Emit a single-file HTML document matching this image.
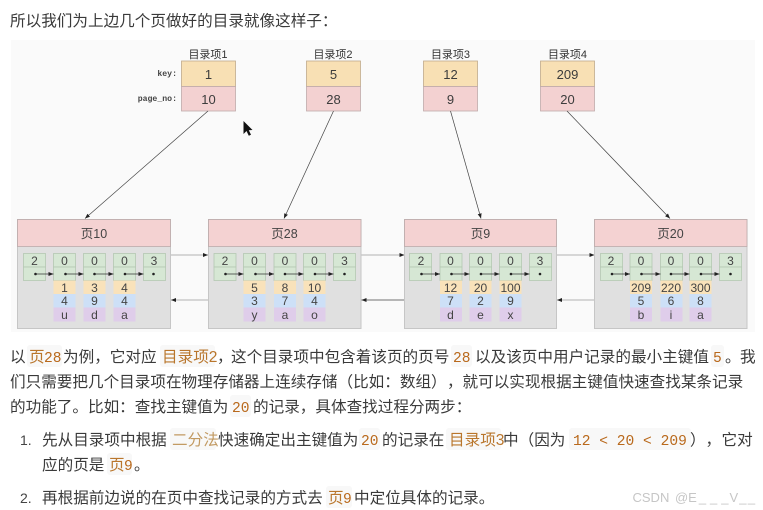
<!DOCTYPE html>
<html><head><meta charset="utf-8">
<style>
html,body{margin:0;padding:0;background:#fff;width:763px;height:510px;overflow:hidden}
svg{display:block;filter:blur(.3px)}
text{font-family:"Liberation Sans","Noto Sans CJK SC",sans-serif;text-spacing-trim:space-all}
.t{font-size:15.6px;fill:#3a3a3a}
.c{font-size:15.6px;fill:#b9762c}
.l{font-size:15.6px;fill:#c29a62}
.m{font-family:"Liberation Mono","Noto Sans CJK SC",monospace;font-size:14.6px;fill:#b9691c}
.n{font-size:14px;fill:#444}
.bg{fill:#f8f8f8}
.g{fill:#d6e7d4;stroke:#b4c8b2;stroke-width:.8}
.o{fill:#f9e2ba}
.b{fill:#cde0f7}
.p{fill:#dfcdea}
.v{font-size:12px;fill:#444;text-anchor:middle}
.d{font-size:13px;fill:#3c3c3c;text-anchor:middle}
.h{font-size:12.5px;fill:#444;text-anchor:middle}
.lb{font-size:11px;fill:#333;text-anchor:middle}
.k{font-family:"Liberation Mono",monospace;font-size:8.2px;font-weight:bold;fill:#444;text-anchor:end}
.pg{fill:#e0e0e0;stroke:#c6c6c6;stroke-width:1}
.hd{fill:#f4d2d2;stroke:#bcaaaa;stroke-width:.8}
.dir1{fill:#f8e0b4;stroke:#c0aa8c;stroke-width:.8}
.dir2{fill:#f3d1d1;stroke:#c0aaaa;stroke-width:.8}
.a{stroke:#444;stroke-width:.7;fill:none;marker-end:url(#ah)}
.a2{stroke:#999;stroke-width:.8;fill:none;marker-end:url(#ah)}
.a3{stroke:#444;stroke-width:.8;fill:none;marker-end:url(#ah)}
.r{stroke:#333;stroke-width:.8;fill:none;marker-end:url(#as)}
.dot{fill:#222}
</style></head>
<body>
<svg width="763" height="510" viewBox="0 0 763 510" xmlns="http://www.w3.org/2000/svg">
<defs>
<marker id="ah" markerWidth="6" markerHeight="5" refX="5" refY="2.5" orient="auto" markerUnits="userSpaceOnUse"><path d="M0 .5L5 2.500L0 4.500z" fill="#222"/></marker>
<marker id="as" markerWidth="6" markerHeight="5" refX="5" refY="2.5" orient="auto" markerUnits="userSpaceOnUse"><path d="M0 .5L5 2.500L0 4.500z" fill="#222"/></marker>
</defs>
<rect width="763" height="510" fill="#fff"/>
<text class="t" x="10" y="26">所以我们为上边几个页做好的目录就像这样子：</text>
<rect x="11" y="40" width="744" height="292" fill="#fafafa"/>

<!-- directory -->
<text class="lb" x="208" y="58">目录项1</text>
<text class="lb" x="333" y="58">目录项2</text>
<text class="lb" x="450.5" y="58">目录项3</text>
<text class="lb" x="567.5" y="58">目录项4</text>
<text class="k" x="177" y="76">key:</text>
<text class="k" x="177" y="101">page_no:</text>
<rect class="dir1" x="181.5" y="61" width="54" height="25.5"/><rect class="dir2" x="181.5" y="86.5" width="54" height="24.5"/>
<rect class="dir1" x="306.5" y="61" width="54" height="25.5"/><rect class="dir2" x="306.5" y="86.5" width="54" height="24.5"/>
<rect class="dir1" x="423.5" y="61" width="54" height="25.5"/><rect class="dir2" x="423.5" y="86.5" width="54" height="24.5"/>
<rect class="dir1" x="540.5" y="61" width="54" height="25.5"/><rect class="dir2" x="540.5" y="86.5" width="54" height="24.5"/>
<text class="d" x="208.5" y="79">1</text><text class="d" x="208.5" y="104">10</text>
<text class="d" x="333.5" y="79">5</text><text class="d" x="333.5" y="104">28</text>
<text class="d" x="450.5" y="79">12</text><text class="d" x="450.5" y="104">9</text>
<text class="d" x="567.5" y="79">209</text><text class="d" x="567.5" y="104">20</text>

<path class="a" d="M208 111L85 218.5"/>
<path class="a" d="M333.5 111L284 218.5"/>
<path class="a" d="M450.5 111L481 218.5"/>
<path class="a" d="M567 111L670 218.5"/>

<!-- cursor -->
<path d="M243.500 121L243.500 134L246.500 131L248.800 135.800L251 134.800L248.800 130.300L252.500 130z" fill="#111"/>

<!-- page connectors -->
<path class="a2" d="M170.500 255L208 255"/><path class="a2" d="M208 300L171 300"/>
<path class="a2" d="M361 255L404.500 255"/><path class="a3" d="M404.500 300L361.500 300"/>
<path class="a2" d="M556.500 255L594.500 255"/><path class="a2" d="M594.500 300L557 300"/>

<!-- Page 10 -->
<rect class="pg" x="17.500" y="219.500" width="153" height="109"/><rect class="hd" x="17.500" y="219.500" width="153" height="27"/>
<text class="h" x="94" y="238">页10</text>
<g>
<rect class="g" x="23.500" y="253.500" width="22" height="13.500"/><rect class="g" x="23.500" y="267" width="22" height="13.500"/>
<rect class="g" x="53.500" y="253.500" width="22" height="13.500"/><rect class="g" x="53.500" y="267" width="22" height="13.500"/>
<rect class="o" x="53.500" y="280.500" width="22" height="13.500"/><rect class="b" x="53.500" y="294" width="22" height="13.500"/><rect class="p" x="53.500" y="307.500" width="22" height="14"/>
<rect class="g" x="83.500" y="253.500" width="22" height="13.500"/><rect class="g" x="83.500" y="267" width="22" height="13.500"/>
<rect class="o" x="83.500" y="280.500" width="22" height="13.500"/><rect class="b" x="83.500" y="294" width="22" height="13.500"/><rect class="p" x="83.500" y="307.500" width="22" height="14"/>
<rect class="g" x="113.500" y="253.500" width="22" height="13.500"/><rect class="g" x="113.500" y="267" width="22" height="13.500"/>
<rect class="o" x="113.500" y="280.500" width="22" height="13.500"/><rect class="b" x="113.500" y="294" width="22" height="13.500"/><rect class="p" x="113.500" y="307.500" width="22" height="14"/>
<rect class="g" x="143.500" y="253.500" width="22" height="13.500"/><rect class="g" x="143.500" y="267" width="22" height="13.500"/>
<path class="r" d="M35.500 274L53.500 274"/><path class="r" d="M65.500 274L83.500 274"/><path class="r" d="M94.500 274L113.500 274"/><path class="r" d="M125 274L143.500 274"/>
<circle class="dot" cx="35.500" cy="274" r="1.300"/><circle class="dot" cx="65.500" cy="274" r="1.300"/><circle class="dot" cx="94.500" cy="274" r="1.300"/><circle class="dot" cx="125" cy="274" r="1.300"/><circle class="dot" cx="153.500" cy="274" r="1.300"/>
<text class="v" x="34.500" y="265">2</text><text class="v" x="64.500" y="265">0</text><text class="v" x="94.500" y="265">0</text><text class="v" x="124.500" y="265">0</text><text class="v" x="154" y="265">3</text>
<text class="v" x="64.500" y="292">1</text><text class="v" x="94.500" y="292">3</text><text class="v" x="124.500" y="292">4</text>
<text class="v" x="64.500" y="305">4</text><text class="v" x="94.500" y="305">9</text><text class="v" x="124.500" y="305">4</text>
<text class="v" x="64.500" y="319">u</text><text class="v" x="94.500" y="319">d</text><text class="v" x="124.500" y="319">a</text>
</g>

<!-- Page 28 -->
<rect class="pg" x="208.500" y="219.500" width="152.500" height="109"/><rect class="hd" x="208.500" y="219.500" width="152.500" height="27"/>
<text class="h" x="284.500" y="238">页28</text>
<g>
<rect class="g" x="214" y="253.500" width="22" height="13.500"/><rect class="g" x="214" y="267" width="22" height="13.500"/>
<rect class="g" x="243.500" y="253.500" width="22" height="13.500"/><rect class="g" x="243.500" y="267" width="22" height="13.500"/>
<rect class="o" x="243.500" y="280.500" width="22" height="13.500"/><rect class="b" x="243.500" y="294" width="22" height="13.500"/><rect class="p" x="243.500" y="307.500" width="22" height="14"/>
<rect class="g" x="274" y="253.500" width="22" height="13.500"/><rect class="g" x="274" y="267" width="22" height="13.500"/>
<rect class="o" x="274" y="280.500" width="22" height="13.500"/><rect class="b" x="274" y="294" width="22" height="13.500"/><rect class="p" x="274" y="307.500" width="22" height="14"/>
<rect class="g" x="303.500" y="253.500" width="22" height="13.500"/><rect class="g" x="303.500" y="267" width="22" height="13.500"/>
<rect class="o" x="303.500" y="280.500" width="22" height="13.500"/><rect class="b" x="303.500" y="294" width="22" height="13.500"/><rect class="p" x="303.500" y="307.500" width="22" height="14"/>
<rect class="g" x="333.500" y="253.500" width="22" height="13.500"/><rect class="g" x="333.500" y="267" width="22" height="13.500"/>
<path class="r" d="M225.500 274L243.500 274"/><path class="r" d="M255.500 274L274 274"/><path class="r" d="M285 274L303.500 274"/><path class="r" d="M315 274L333.500 274"/>
<circle class="dot" cx="225.500" cy="274" r="1.300"/><circle class="dot" cx="255.500" cy="274" r="1.300"/><circle class="dot" cx="285" cy="274" r="1.300"/><circle class="dot" cx="315" cy="274" r="1.300"/><circle class="dot" cx="344.500" cy="274" r="1.300"/>
<text class="v" x="225" y="265">2</text><text class="v" x="254.500" y="265">0</text><text class="v" x="285" y="265">0</text><text class="v" x="314.500" y="265">0</text><text class="v" x="344.500" y="265">3</text>
<text class="v" x="254.500" y="292">5</text><text class="v" x="285" y="292">8</text><text class="v" x="314.500" y="292">10</text>
<text class="v" x="254.500" y="305">3</text><text class="v" x="285" y="305">7</text><text class="v" x="314.500" y="305">4</text>
<text class="v" x="254.500" y="319">y</text><text class="v" x="285" y="319">a</text><text class="v" x="314.500" y="319">o</text>
</g>

<!-- Page 9 -->
<rect class="pg" x="404.500" y="219.500" width="152" height="109"/><rect class="hd" x="404.500" y="219.500" width="152" height="27"/>
<text class="h" x="480.500" y="238">页9</text>
<g>
<rect class="g" x="409.500" y="253.500" width="22" height="13.500"/><rect class="g" x="409.500" y="267" width="22" height="13.500"/>
<rect class="g" x="440" y="253.500" width="22" height="13.500"/><rect class="g" x="440" y="267" width="22" height="13.500"/>
<rect class="o" x="440" y="280.500" width="22" height="13.500"/><rect class="b" x="440" y="294" width="22" height="13.500"/><rect class="p" x="440" y="307.500" width="22" height="14"/>
<rect class="g" x="469.500" y="253.500" width="22" height="13.500"/><rect class="g" x="469.500" y="267" width="22" height="13.500"/>
<rect class="o" x="469.500" y="280.500" width="22" height="13.500"/><rect class="b" x="469.500" y="294" width="22" height="13.500"/><rect class="p" x="469.500" y="307.500" width="22" height="14"/>
<rect class="g" x="499.500" y="253.500" width="22" height="13.500"/><rect class="g" x="499.500" y="267" width="22" height="13.500"/>
<rect class="o" x="499.500" y="280.500" width="22" height="13.500"/><rect class="b" x="499.500" y="294" width="22" height="13.500"/><rect class="p" x="499.500" y="307.500" width="22" height="14"/>
<rect class="g" x="529.500" y="253.500" width="22" height="13.500"/><rect class="g" x="529.500" y="267" width="22" height="13.500"/>
<path class="r" d="M421.500 274L440 274"/><path class="r" d="M451.500 274L469.500 274"/><path class="r" d="M481 274L499.500 274"/><path class="r" d="M511 274L529.500 274"/>
<circle class="dot" cx="421.500" cy="274" r="1.300"/><circle class="dot" cx="451.500" cy="274" r="1.300"/><circle class="dot" cx="481" cy="274" r="1.300"/><circle class="dot" cx="511" cy="274" r="1.300"/><circle class="dot" cx="540" cy="274" r="1.300"/>
<text class="v" x="421" y="265">2</text><text class="v" x="450.500" y="265">0</text><text class="v" x="480.500" y="265">0</text><text class="v" x="510.500" y="265">0</text><text class="v" x="540" y="265">3</text>
<text class="v" x="450.500" y="292">12</text><text class="v" x="480.500" y="292">20</text><text class="v" x="510.500" y="292">100</text>
<text class="v" x="450.500" y="305">7</text><text class="v" x="480.500" y="305">2</text><text class="v" x="510.500" y="305">9</text>
<text class="v" x="450.500" y="319">d</text><text class="v" x="480.500" y="319">e</text><text class="v" x="510.500" y="319">x</text>
</g>

<!-- Page 20 -->
<rect class="pg" x="594.500" y="219.500" width="152.500" height="109"/><rect class="hd" x="594.500" y="219.500" width="152.500" height="27"/>
<text class="h" x="670.500" y="238">页20</text>
<g>
<rect class="g" x="600.500" y="253.500" width="22" height="13.500"/><rect class="g" x="600.500" y="267" width="22" height="13.500"/>
<rect class="g" x="630" y="253.500" width="22" height="13.500"/><rect class="g" x="630" y="267" width="22" height="13.500"/>
<rect class="o" x="630" y="280.500" width="22" height="13.500"/><rect class="b" x="630" y="294" width="22" height="13.500"/><rect class="p" x="630" y="307.500" width="22" height="14"/>
<rect class="g" x="660.500" y="253.500" width="22" height="13.500"/><rect class="g" x="660.500" y="267" width="22" height="13.500"/>
<rect class="o" x="660.500" y="280.500" width="22" height="13.500"/><rect class="b" x="660.500" y="294" width="22" height="13.500"/><rect class="p" x="660.500" y="307.500" width="22" height="14"/>
<rect class="g" x="689.500" y="253.500" width="22" height="13.500"/><rect class="g" x="689.500" y="267" width="22" height="13.500"/>
<rect class="o" x="689.500" y="280.500" width="22" height="13.500"/><rect class="b" x="689.500" y="294" width="22" height="13.500"/><rect class="p" x="689.500" y="307.500" width="22" height="14"/>
<rect class="g" x="719.500" y="253.500" width="22" height="13.500"/><rect class="g" x="719.500" y="267" width="22" height="13.500"/>
<path class="r" d="M612 274L630 274"/><path class="r" d="M641.500 274L660.500 274"/><path class="r" d="M671 274L689.500 274"/><path class="r" d="M701 274L719.500 274"/>
<circle class="dot" cx="612" cy="274" r="1.300"/><circle class="dot" cx="641.500" cy="274" r="1.300"/><circle class="dot" cx="671" cy="274" r="1.300"/><circle class="dot" cx="701" cy="274" r="1.300"/><circle class="dot" cx="730.500" cy="274" r="1.300"/>
<text class="v" x="611" y="265">2</text><text class="v" x="641" y="265">0</text><text class="v" x="671" y="265">0</text><text class="v" x="700.500" y="265">0</text><text class="v" x="730.500" y="265">3</text>
<text class="v" x="641" y="292">209</text><text class="v" x="671" y="292">220</text><text class="v" x="700.500" y="292">300</text>
<text class="v" x="641" y="305">5</text><text class="v" x="671" y="305">6</text><text class="v" x="700.500" y="305">8</text>
<text class="v" x="641" y="319">b</text><text class="v" x="671" y="319">i</text><text class="v" x="700.500" y="319">a</text>
</g>

<!-- code backgrounds -->
<rect class="bg" x="27" y="345" width="35" height="22" rx="3"/>
<rect class="bg" x="160" y="345" width="55" height="22" rx="3"/>
<rect class="bg" x="451" y="345" width="21" height="22" rx="3"/>
<rect class="bg" x="711" y="345" width="13" height="22" rx="3"/>
<rect class="bg" x="230" y="395" width="21" height="22" rx="3"/>
<rect class="bg" x="170" y="428" width="46" height="22" rx="3"/>
<rect class="bg" x="359" y="428" width="21" height="22" rx="3"/>
<rect class="bg" x="446" y="428" width="55" height="22" rx="3"/>
<rect class="bg" x="569" y="428" width="122" height="22" rx="3"/>
<rect class="bg" x="107" y="453" width="25" height="22" rx="3"/>
<rect class="bg" x="326" y="486" width="26" height="22" rx="3"/>

<!-- line 1 -->
<text class="t" x="10" y="362">以</text>
<text class="c" x="29" y="362">页</text><text class="m" x="44" y="362">28</text>
<text class="t" x="63" y="362">为例，它对应</text>
<text class="c" x="162" y="362">目录项2</text>
<text class="t" x="217" y="362">，</text>
<text class="t" x="231" y="362">这个目录项中包含着该页的页号</text>
<text class="m" x="453" y="362">28</text>
<text class="t" x="475" y="362">以及该页中用户记录的最小主键值</text>
<text class="m" x="713" y="362">5</text>
<text class="t" x="725" y="362">。</text><text class="t" x="740" y="362">我</text>
<!-- line 2 -->
<text class="t" x="10" y="387">们只需要把几个目录项在物理存储器上连续存储（比如：数组）</text>
<text class="t" x="447" y="387">，</text>
<text class="t" x="462.500" y="387">就可以实现根据主键值快速查找某条记录</text>
<!-- line 3 -->
<text class="t" x="10" y="412">的功能了。比如：查找主键值为</text>
<text class="m" x="232" y="412">20</text>
<text class="t" x="253" y="412">的记录，具体查找过程分两步：</text>
<!-- li 1 -->
<text class="n" x="20" y="445">1.</text>
<text class="t" x="42" y="445">先从目录项中根据</text>
<text class="l" x="172" y="445">二分法</text>
<text class="t" x="218" y="445">快速确定出主键值为</text>
<text class="m" x="361" y="445">20</text>
<text class="t" x="382" y="445">的记录在</text>
<text class="c" x="449" y="445">目录项3</text>
<text class="t" x="503" y="445">中（因为</text>
<text class="m" x="573" y="445">12 &lt; 20 &lt; 209</text>
<text class="t" x="690" y="445">）</text>
<text class="t" x="705.500" y="445">，</text>
<text class="t" x="721.500" y="445">它对</text>
<text class="t" x="42" y="470">应的页是</text>
<text class="c" x="109" y="470">页</text><text class="m" x="124" y="470">9</text>
<text class="t" x="134" y="470">。</text>
<!-- li 2 -->
<text class="n" x="20" y="503">2.</text>
<text class="t" x="42" y="503">再根据前边说的在页中查找记录的方式去</text>
<text class="c" x="328" y="503">页</text><text class="m" x="343" y="503">9</text>
<text class="t" x="354" y="503">中定位具体的记录。</text>
<!-- watermark -->
<text x="632.500" y="502" font-size="13" fill="#c6c6c6">CSDN <tspan dx="2">@E</tspan><tspan dx="2" letter-spacing="4">___</tspan><tspan dx="-3">V</tspan><tspan dx="1" letter-spacing="1.500">__</tspan></text>
</svg>
</body></html>
